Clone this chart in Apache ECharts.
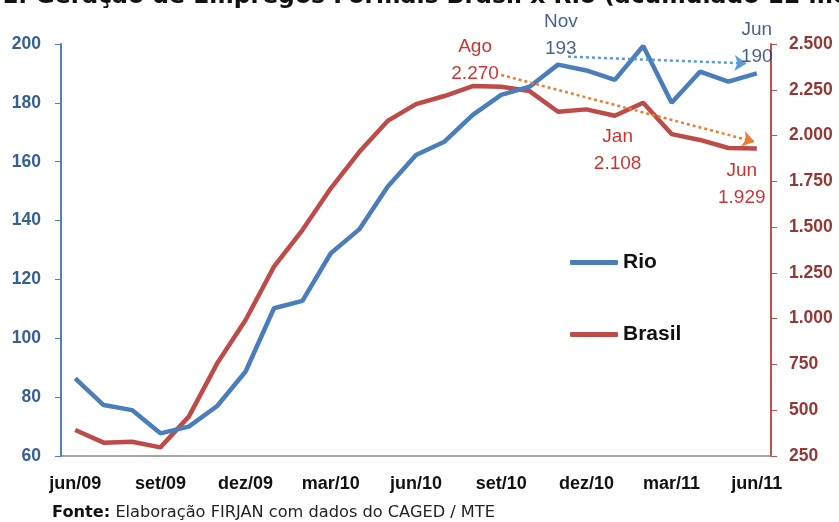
<!DOCTYPE html>
<html><head><meta charset="utf-8">
<script src="https://cdn.jsdelivr.net/npm/echarts@6/dist/echarts.min.js"></script>
<style>html,body{margin:0;padding:0;background:#fff}#c{width:839px;height:522px}</style>
</head><body><div id="c"></div>
<script>
const categories = ['jun/09','jul/09','ago/09','set/09','out/09','nov/09','dez/09','jan/10','fev/10','mar/10','abr/10','mai/10','jun/10','jul/10','ago/10','set/10','out/10','nov/10','dez/10','jan/11','fev/11','mar/11','abr/11','mai/11','jun/11'];
const rio = [86.4,77.3,75.6,67.7,70,77,88.7,110.2,112.7,128.9,137,151.5,162.3,166.8,175.9,182.7,185.5,193,191,187.8,199.3,180,190.6,187.2,190];
const brasil = [392,323,328,297,465,756,993,1284,1484,1712,1910,2080,2172,2216,2270,2267,2243,2130,2143,2108,2179,2008,1976,1932,1929];
const leftTicks = {min:60, max:200, interval:20};
const rightTicks = {min:250, max:2500, interval:250};
// annotations: [x position in months, value, text]
const rioNotes = [[17.6,203.1,'Nov\n193'],[24.5,200.4,'Jun\n190']];
const brasilNotes = [[14.58,2413,'Ago\n2.270'],[19.6,1921,'Jan\n2.108'],[23.97,1735,'Jun\n1.929']];
const rioTrend = [[17.85,195.7],[24.14,193.4]];
const brasilTrend = [[15.5,2331],[24.42,1966]];

const fmtPt = v => String(v).replace(/\B(?=(\d{3})+(?!\d))/g,'.');
const chart = echarts.init(document.getElementById('c'));
chart.setOption({
  animation:false,
  textStyle:{fontFamily:'Liberation Sans'},
  title:{text:'1. Geração de Empregos Formais Brasil x Rio (acumulado 12 meses)',left:-3,top:-20,
    textStyle:{fontFamily:'DejaVu Sans',fontWeight:'bold',fontSize:23.5,color:'#111'}},
  graphic:[{type:'text',left:52,top:505,style:{
    text:'{b|Fonte:} Elaboração FIRJAN com dados do CAGED / MTE',
    rich:{b:{fontWeight:'bold',fontFamily:'DejaVu Sans',fontSize:16.2,fill:'#111'}},
    fontFamily:'DejaVu Sans',fontSize:16.2,fill:'#222'}}],
  legend:{data:['Rio','Brasil'],orient:'vertical',left:565,top:247,itemWidth:48,itemHeight:5,itemGap:51,icon:'roundRect',
    textStyle:{fontSize:21,fontWeight:'bold',color:'#111',fontFamily:'Liberation Sans'}},
  grid:{left:61,right:68,top:44,bottom:66},
  xAxis:[{type:'category',data:categories,boundaryGap:true,
    axisLine:{lineStyle:{color:'#888',width:1.5}},
    axisTick:{interval:2,length:5,lineStyle:{color:'#888'}},
    axisLabel:{interval:2,color:'#111',fontWeight:'bold',fontSize:18,margin:19}},
    {type:'value',min:0,max:25,show:false}],
  yAxis:[{type:'value',min:leftTicks.min,max:leftTicks.max,interval:leftTicks.interval,splitLine:{show:false},
    axisLine:{show:true,lineStyle:{color:'#4F81BD',width:2}},
    axisTick:{show:true,length:6,lineStyle:{color:'#4F81BD'}},
    axisLabel:{color:'#376092',fontWeight:'bold',fontSize:17.5,margin:20}},
    {type:'value',min:rightTicks.min,max:rightTicks.max,interval:rightTicks.interval,position:'right',splitLine:{show:false},
    axisLine:{show:true,lineStyle:{color:'#C0504D',width:2}},
    axisTick:{show:true,length:6,lineStyle:{color:'#C0504D'}},
    axisLabel:{color:'#953735',fontWeight:'bold',fontSize:17.5,margin:18,formatter:fmtPt}}],
  series:[
    {name:'Rio',type:'line',data:rio,yAxisIndex:0,symbol:'none',lineStyle:{color:'#4A7EBB',width:4.5},itemStyle:{color:'#4A7EBB'},z:3},
    {name:'Brasil',type:'line',data:brasil,yAxisIndex:1,symbol:'none',lineStyle:{color:'#BE4B48',width:4.5},itemStyle:{color:'#BE4B48'},z:2},
    {type:'lines',coordinateSystem:'cartesian2d',xAxisIndex:1,yAxisIndex:0,clip:false,symbol:['none','arrow'],symbolSize:12,
      lineStyle:{color:'#5B9BD5',width:2.5,type:[3,3],opacity:1},data:[{coords:rioTrend}],z:4},
    {type:'lines',coordinateSystem:'cartesian2d',xAxisIndex:1,yAxisIndex:1,clip:false,symbol:['none','arrow'],symbolSize:12,
      lineStyle:{color:'#ED7D31',width:2.5,type:[3,3],opacity:1},data:[{coords:brasilTrend}],z:4},
    {type:'scatter',xAxisIndex:1,yAxisIndex:0,clip:false,symbolSize:0,silent:true,
      data:rioNotes.map(d=>({value:[d[0],d[1]],name:d[2]})),
      label:{show:true,position:'inside',formatter:p=>p.name,fontSize:19,lineHeight:27,color:'#1A3A72',fontFamily:'Liberation Sans'},z:5},
    {type:'scatter',xAxisIndex:1,yAxisIndex:1,clip:false,symbolSize:0,silent:true,
      data:brasilNotes.map(d=>({value:[d[0],d[1]],name:d[2]})),
      label:{show:true,position:'inside',formatter:p=>p.name,fontSize:19,lineHeight:27,color:'#C00000',fontFamily:'Liberation Sans'},z:5}
  ]
});
</script></body></html>
